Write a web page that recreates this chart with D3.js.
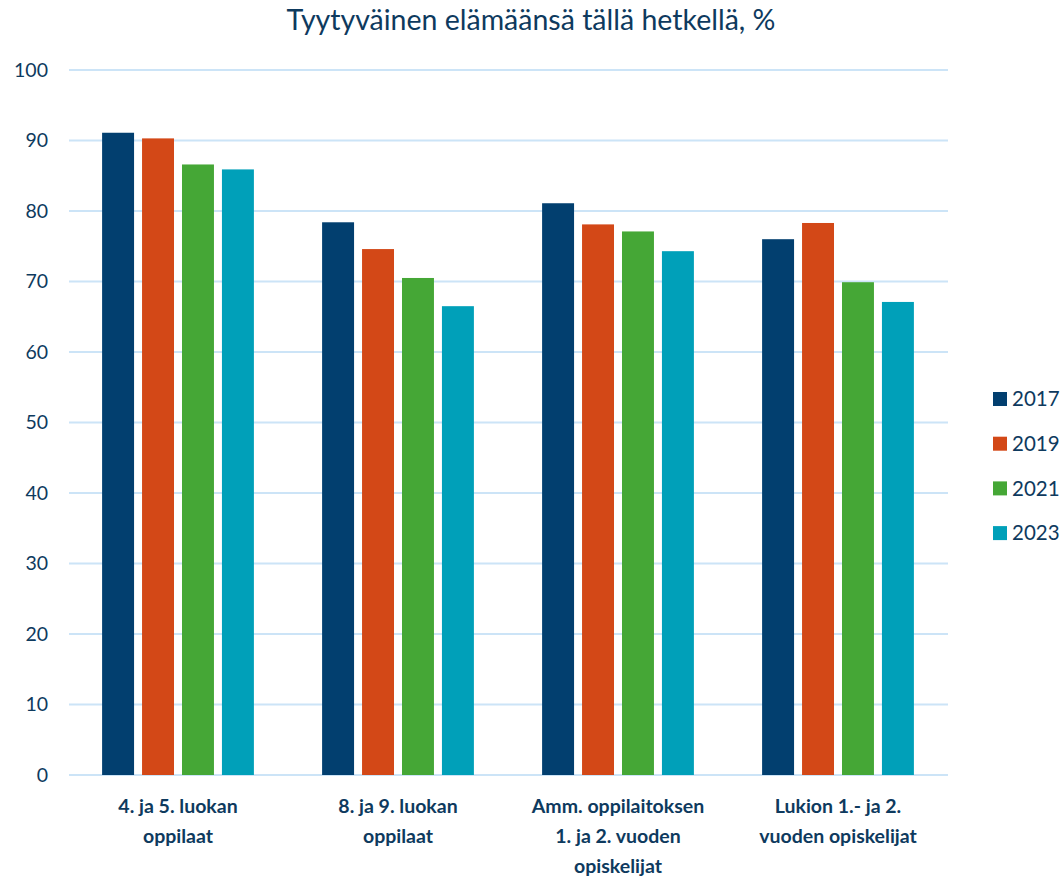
<!DOCTYPE html>
<html>
<head>
<meta charset="utf-8">
<script src="https://cdn.jsdelivr.net/npm/d3@7"></script>
<style>
  body { margin: 0; background: #fff; }
  text { font-family: Lato, "Open Sans", sans-serif; fill: #0e3a5e; }
</style>
</head>
<body>
<div id="chart"></div>
<script>
const w = 1061;
const h = 876;

// data
const categories = [
  ["4. ja 5. luokan", "oppilaat"],
  ["8. ja 9. luokan", "oppilaat"],
  ["Amm. oppilaitoksen", "1. ja 2. vuoden", "opiskelijat"],
  ["Lukion 1.- ja 2.", "vuoden opiskelijat"]
];
const years = ["2017", "2019", "2021", "2023"];
const v2017 = [91.1, 78.4, 81.1, 76.0];
const v2019 = [90.3, 74.6, 78.1, 78.3];
const v2021 = [86.6, 70.5, 77.1, 69.9];
const v2023 = [85.9, 66.5, 74.3, 67.1];
const yTicks = [0, 10, 20, 30, 40, 50, 60, 70, 80, 90, 100];
const colors = ["#023f6f", "#d34817", "#45a736", "#00a0b9"];

const series = [v2017, v2019, v2021, v2023];

const plotL = 68, plotR = 948, plotT = 70, plotB = 775;

const svg = d3.select("#chart")
  .append("svg")
  .attr("width", w)
  .attr("height", h);

//Title
svg.append("text")
  .attr("x", 531)
  .attr("y", 30)
  .attr("text-anchor", "middle")
  .style("font-size", "28.5px")
  .text("Tyytyväinen elämäänsä tällä hetkellä, %");

const x0 = d3.scaleBand()
  .domain(d3.range(categories.length))
  .range([plotL, plotR])
  .paddingInner(0.31)
  .paddingOuter(0.155);

const x1 = d3.scaleBand()
  .domain(years)
  .range([0, x0.bandwidth()])
  .paddingInner(0.2);

const y = d3.scaleLinear().domain([0, 100]).range([plotB, plotT]);

//Grid lines
svg.append("g").selectAll("line")
  .data(yTicks)
  .enter().append("line")
  .attr("x1", plotL + 1)
  .attr("x2", plotR)
  .attr("y1", d => y(d))
  .attr("y2", d => y(d))
  .attr("stroke", "#cce4f7")
  .attr("stroke-width", 2);

//Y labels
svg.append("g").selectAll("text")
  .data(yTicks)
  .enter().append("text")
  .attr("x", 48)
  .attr("y", d => y(d))
  .attr("dy", "0.35em")
  .attr("text-anchor", "end")
  .style("font-size", "19.5px")
  .text(d => d);

//Bars
const groups = svg.append("g").selectAll("g")
  .data(categories.map((c, i) => i))
  .enter().append("g")
  .attr("transform", i => `translate(${x0(i)},0)`);

groups.selectAll("rect")
  .data(i => years.map((yr, j) => ({ yr, j, v: series[j][i] })))
  .enter().append("rect")
  .attr("x", d => x1(d.yr))
  .attr("width", x1.bandwidth())
  .attr("y", d => y(d.v))
  .attr("height", d => y(0) - y(d.v))
  .attr("fill", d => colors[d.j]);

//Category labels
const catLabels = svg.append("g").selectAll("text")
  .data(categories)
  .enter().append("text")
  .attr("x", (d, i) => x0(i) + x0.bandwidth() / 2)
  .attr("y", 813)
  .attr("text-anchor", "middle")
  .style("font-size", "19.5px")
  .style("font-weight", "bold");

catLabels.selectAll("tspan")
  .data(d => d)
  .enter().append("tspan")
  .attr("x", function() { return this.parentNode.getAttribute("x"); })
  .attr("dy", (d, i) => i === 0 ? 0 : 30)
  .text(d => d);

//Legend
const legend = svg.append("g").attr("id", "legend");
const leg = legend.selectAll("g")
  .data(years)
  .enter().append("g")
  .attr("transform", (d, i) => `translate(993, ${399 + i * 44.7})`);

leg.append("rect")
  .attr("x", 0)
  .attr("y", -7)
  .attr("width", 14)
  .attr("height", 14)
  .attr("fill", (d, i) => colors[i]);

leg.append("text")
  .attr("x", 19)
  .attr("dy", "0.35em")
  .style("font-size", "20.5px")
  .text(d => d);
</script>
</body>
</html>
